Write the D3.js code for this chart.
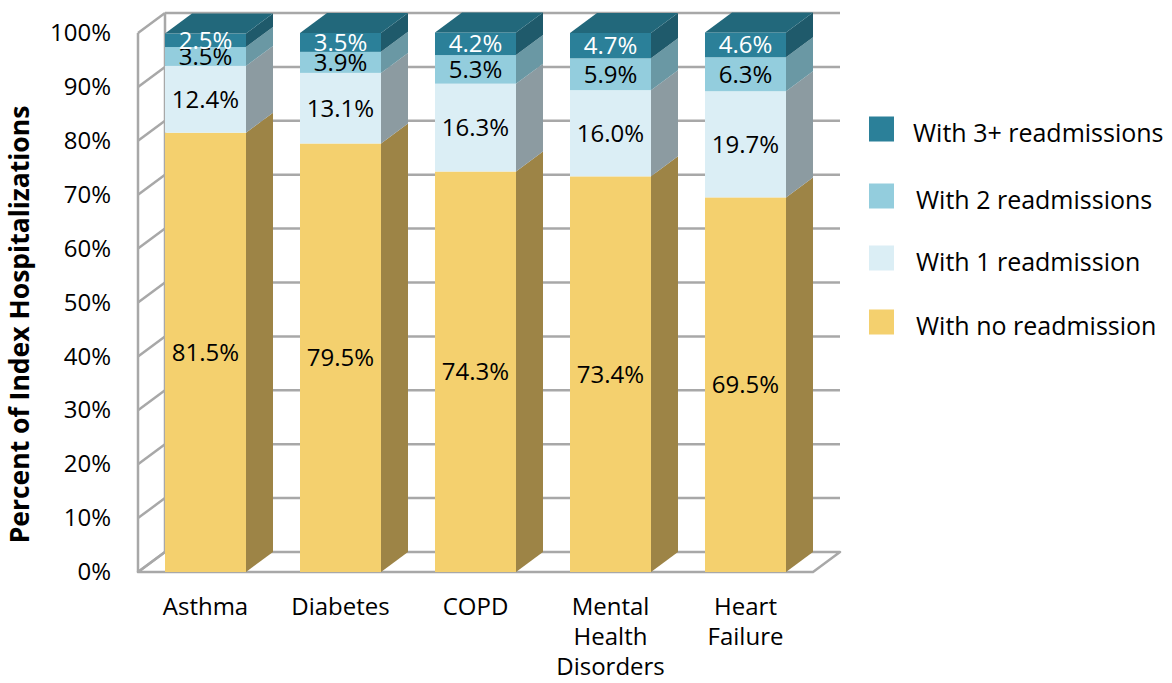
<!DOCTYPE html>
<html>
<head>
<meta charset="utf-8">
<script src="https://cdn.jsdelivr.net/npm/d3@7"></script>
<style>
  html, body { margin: 0; padding: 0; background: #fff; }
  svg { display: block; font-family: "Open Sans", "Liberation Sans", sans-serif; }
</style>
</head>
<body>
<svg id="chart" width="1172" height="683"></svg>
<script>
// Readmission outcomes by condition (percent of index hospitalizations)
const categories = [["Asthma"], ["Diabetes"], ["COPD"], ["Mental", "Health", "Disorders"], ["Heart", "Failure"]];
const categoryKeys = ["Asthma", "Diabetes", "COPD", "Mental Health Disorders", "Heart Failure"];
const seriesNames = ["With no readmission", "With 1 readmission", "With 2 readmissions", "With 3+ readmissions"];
const noReadmission = [81.5, 79.5, 74.3, 73.4, 69.5];
const oneReadmission = [12.4, 13.1, 16.3, 16.0, 19.7];
const twoReadmissions = [3.5, 3.9, 5.3, 5.9, 6.3];
const threePlusReadmissions = [2.5, 3.5, 4.2, 4.7, 4.6];
const yTicks = [0, 10, 20, 30, 40, 50, 60, 70, 80, 90, 100];

const seriesValues = [noReadmission, oneReadmission, twoReadmissions, threePlusReadmissions];
const frontColors = ["#f4d06e", "#dbeef5", "#93cddd", "#2b8099"];
const sideColors  = ["#9d8446", "#8c9ba1", "#6a98a4", "#1f5a6b"];
const topColor = "#22687b";
const labelColors = ["#000", "#000", "#000", "#fff"];

const svg = d3.select("#chart");
const depthX = 27, depthY = -20;

const x = d3.scaleBand().domain(categoryKeys).range([138, 813]);
const y = d3.scaleLinear().domain([0, 100]).range([572, 33]);
const bw = x.bandwidth();
const barLeft = k => x(k) + bw * 0.2;
const barW = bw * 0.6;

const gridColor = "#a8a8a8";

// floor
const floor = svg.append("g");
floor.append("polygon")
  .attr("points", [[x.range()[0], y(0)], [x.range()[1], y(0)], [x.range()[1] + depthX, y(0) + depthY], [x.range()[0] + depthX, y(0) + depthY]].map(p => p.join(",")).join(" "))
  .attr("fill", "#fff").attr("stroke", gridColor).attr("stroke-width", 2.5).attr("stroke-linejoin", "round");

// back wall gridlines
const grid = svg.append("g").attr("stroke", gridColor).attr("stroke-width", 2.5).attr("fill", "none");
grid.selectAll("line.back").data(yTicks.filter(t => t > 0)).join("line")
  .attr("x1", x.range()[0] + depthX).attr("x2", x.range()[1] + depthX)
  .attr("y1", d => y(d) + depthY).attr("y2", d => y(d) + depthY);
// side wall: depth lines and vertical edges
grid.selectAll("line.side").data(yTicks).join("line")
  .attr("x1", x.range()[0]).attr("x2", x.range()[0] + depthX)
  .attr("y1", d => y(d)).attr("y2", d => y(d) + depthY);
grid.append("line").attr("x1", x.range()[0]).attr("x2", x.range()[0])
  .attr("y1", y(0)).attr("y2", y(100));
grid.append("line").attr("x1", x.range()[0] + depthX).attr("x2", x.range()[0] + depthX)
  .attr("y1", y(0) + depthY).attr("y2", y(100) + depthY);

// y axis tick labels
const yAxis = d3.axisLeft(y).tickValues(yTicks).tickFormat(d => d + "%").tickSize(0).tickPadding(0);
const yg = svg.append("g").attr("transform", "translate(111,0)").call(yAxis);
yg.select(".domain").remove();
yg.selectAll("text").attr("font-size", 24).attr("fill", "#000").attr("font-family", "'Open Sans', sans-serif");

// y axis title
svg.append("text")
  .attr("transform", `translate(29,${(y(0) + y(100)) / 2 + 22}) rotate(-90)`)
  .attr("text-anchor", "middle").attr("font-size", 26.5).attr("font-weight", "bold")
  .text("Percent of Index Hospitalizations");

// stacked 3D bars
const bars = svg.append("g");
categoryKeys.forEach((k, i) => {
  const x0 = barLeft(k), x1 = x0 + barW;
  let base = 0;
  const g = bars.append("g");
  seriesValues.forEach((vals, s) => {
    const v0 = base, v1 = base + vals[i];
    base = v1;
    g.append("rect").attr("x", x0).attr("y", y(v1)).attr("width", barW).attr("height", y(v0) - y(v1))
      .attr("fill", frontColors[s]);
    g.append("polygon")
      .attr("points", [[x1, y(v0)], [x1 + depthX, y(v0) + depthY], [x1 + depthX, y(v1) + depthY], [x1, y(v1)]].map(p => p.join(",")).join(" "))
      .attr("fill", sideColors[s]);
  });
  g.append("polygon")
    .attr("points", [[x0, y(base)], [x1, y(base)], [x1 + depthX, y(base) + depthY], [x0 + depthX, y(base) + depthY]].map(p => p.join(",")).join(" "))
    .attr("fill", topColor);
  // value labels
  base = 0;
  seriesValues.forEach((vals, s) => {
    const v0 = base, v1 = base + vals[i];
    base = v1;
    g.append("text").attr("x", x0 + barW / 2).attr("y", (y(v0) + y(v1)) / 2)
      .attr("dy", "0.36em").attr("text-anchor", "middle").attr("font-size", 24)
      .attr("fill", labelColors[s]).text(vals[i].toFixed(1) + "%");
  });
});

// category labels
const xl = svg.append("g");
categoryKeys.forEach((k, i) => {
  const t = xl.append("text").attr("x", barLeft(k) + barW / 2).attr("y", 615)
    .attr("text-anchor", "middle").attr("font-size", 24);
  categories[i].forEach((line, j) => {
    t.append("tspan").attr("x", barLeft(k) + barW / 2).attr("dy", j === 0 ? 0 : 30).text(line);
  });
});

// legend
const legendY = [129, 196, 258, 322];
const legendOrder = [3, 2, 1, 0];
const lg = svg.append("g");
legendOrder.forEach((s, j) => {
  lg.append("rect").attr("x", 869).attr("y", legendY[j] - 12.5).attr("width", 25).attr("height", 25).attr("fill", frontColors[s]);
  lg.append("text").attr("x", s === 3 ? 913 : 916).attr("y", legendY[j] + 4).attr("dy", "0.36em")
    .attr("font-size", 25).text(seriesNames[s]);
});
</script>
</body>
</html>
